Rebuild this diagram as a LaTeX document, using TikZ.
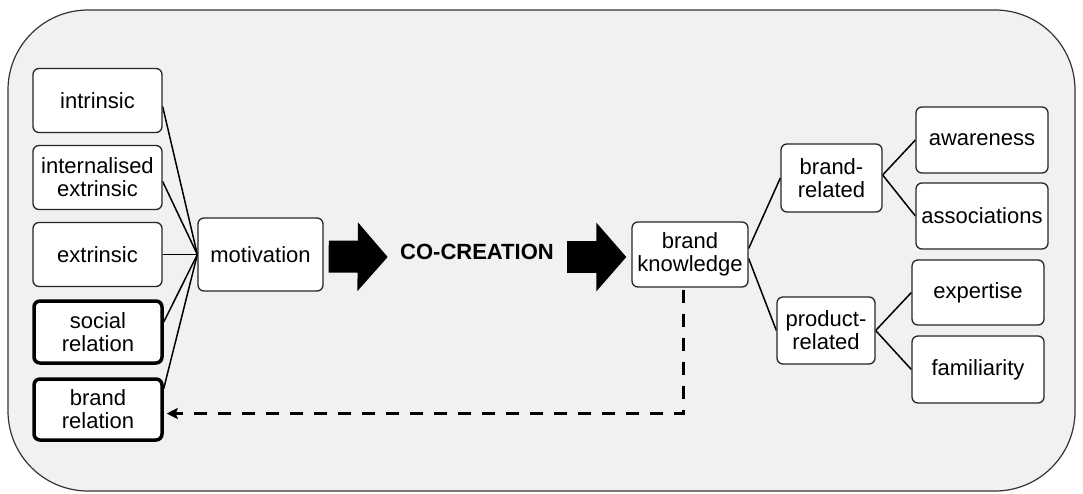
\documentclass[tikz,border=0pt]{standalone}
\usepackage{fontspec}
\setmainfont{Liberation Sans}
\usetikzlibrary{backgrounds,arrows.meta,calc}

\begin{document}
\begin{tikzpicture}[x=1pt,y=-1pt]
    % `box' is used for the plain rounded boxes, `boldbox' for the two relation boxes.
    % `blockarrow' draws the two fat arrows round CO-CREATION.
    % `surround' is used for the background panel.
    \tikzstyle{box} = [draw=black!85,fill=white,rounded corners=6pt,line width=1.3pt,
      align=center,inner sep=0pt,font=\fontsize{22}{23}\selectfont]
    \tikzstyle{boldbox} = [box,draw=black,line width=3.5pt]
    \tikzstyle{link} = [line width=1.5pt]
    \tikzstyle{blockarrow} = [line width=32pt,-{Triangle[length=30pt,width=67pt]}]
    \tikzstyle{feedback} = [line width=3pt,dash pattern=on 13pt off 11pt,
      -{Stealth[length=11pt,width=11pt,inset=2pt]}]
    \tikzstyle{surround} = [fill=black!5.5,draw=black!80,line width=1.2pt,rounded corners=80pt]
    %
    \useasboundingbox (0,0) rectangle (1083,493);
    % left column
    \node[box,minimum width=129pt,minimum height=64pt] (intr) at (97.5,100.5) {intrinsic};
    \node[box,minimum width=129pt,minimum height=64pt] (intext) at (97.5,177.5) {internalised\\extrinsic};
    \node[box,minimum width=129pt,minimum height=64pt] (extr) at (97.5,254.5) {extrinsic};
    \node[boldbox,minimum width=128pt,minimum height=62pt] (socrel) at (98,332) {social\\relation};
    \node[boldbox,minimum width=128pt,minimum height=61pt] (brelation) at (98,409.5) {brand\\relation};
    % middle
    \node[box,minimum width=125pt,minimum height=73pt] (motiv) at (260.5,254.5) {motivation};
    \node[font=\fontsize{22}{23}\selectfont\bfseries] (cocreate) at (477,252) {CO-CREATION};
    \node[box,minimum width=116pt,minimum height=65pt] (knowl) at (690,254.5) {brand\\knowledge};
    % right tree
    \node[box,minimum width=101pt,minimum height=68pt] (brrel) at (831.5,178) {brand-\\related};
    \node[box,minimum width=98pt,minimum height=67pt] (prrel) at (826,330.5) {product-\\related};
    \node[box,minimum width=132pt,minimum height=66pt] (aware) at (982,140) {awareness};
    \node[box,minimum width=132pt,minimum height=66pt] (assoc) at (982,216) {associations};
    \node[box,minimum width=132pt,minimum height=65pt] (expert) at (978,292.5) {expertise};
    \node[box,minimum width=132pt,minimum height=67pt] (famil) at (978,369.5) {familiarity};
    %
    \begin{pgfonlayer}{background}
        % Draw background panel.
        \draw[surround] (8,10) rectangle (1075,491);
        % Draw lines.
        \draw[link] ([yshift=-6pt]intr.east) -- (motiv.west);
        \draw[link] ([yshift=-4pt]intext.east) -- (motiv.west);
        \draw[link] (extr.east) -- (motiv.west);
        \draw[link] ([yshift=10pt]socrel.east) -- (motiv.west);
        \draw[link] ([yshift=21pt]brelation.east) -- (motiv.west);
        \draw[link] ([yshift=6pt]knowl.east) -- (brrel.west);
        \draw[link] ([yshift=-4pt]knowl.east) -- (prrel.west);
        \draw[link] ([yshift=3pt]brrel.east) -- (aware.west);
        \draw[link] ([yshift=3pt]brrel.east) -- (assoc.west);
        \draw[link] (prrel.east) -- (expert.west);
        \draw[link] (prrel.east) -- (famil.west);
    \end{pgfonlayer}
    % block arrows
    \draw[blockarrow] ([xshift=5pt,yshift=-2pt]motiv.east) -- ([xshift=-9pt,yshift=-5pt]cocreate.west);
    \draw[blockarrow] ([xshift=10pt,yshift=-5pt]cocreate.east) -- ([xshift=-5pt,yshift=-2.5pt]knowl.west);
    % feedback
    \coordinate (fbtop) at ([xshift=-7pt,yshift=-2pt]knowl.south);
    \coordinate (fbend) at ([xshift=3pt,yshift=-4pt]brelation.east);
    \coordinate (fbcorner) at (fbtop |- fbend);
    \draw[feedback] (fbtop) -- (fbcorner) -- (fbend);
\end{tikzpicture}
\end{document}
